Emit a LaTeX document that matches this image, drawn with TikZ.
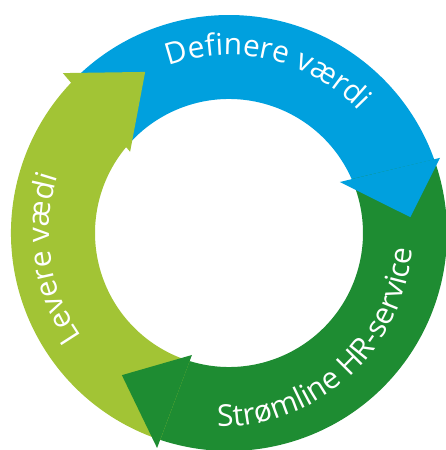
\documentclass[tikz,border=0pt]{standalone}
\usepackage{fontspec}
\setmainfont{Open Sans}
\usetikzlibrary{decorations.text}

\definecolor{cycleblue}{RGB}{0,160,222}
\definecolor{cyclegreen}{RGB}{30,140,50}
\definecolor{cyclelime}{RGB}{162,196,53}

\newcommand\ringfont{\fontsize{30}{30}\selectfont}

\tikzset{
  ringpart/.style={fill=#1, draw=none},
  ringlabel/.style={decorate, decoration={text along path, text align=center,
      text color=white, text={|\ringfont|#1}}}
}

\begin{document}
\begin{tikzpicture}[x=1pt,y=1pt]
  \useasboundingbox (0,0) rectangle (446,450);
  \clip (0,0) rectangle (446,450);

  \begin{scope}[shift={(229,217)}]
    % ring segments (each ends 1 degree inside its own arrow head)
    \fill[ringpart=cycleblue]
      (136.4:218) arc[start angle=136.4, end angle=18.7, radius=218]
      -- (22.7:134) arc[start angle=22.7, end angle=140.2, radius=134] -- cycle;
    \fill[ringpart=cyclegreen]
      (19.7:218) arc[start angle=19.7, end angle=-109.4, radius=218]
      -- (-108.1:134) arc[start angle=-108.1, end angle=23.7, radius=134] -- cycle;
    \fill[ringpart=cyclelime]
      (251.6:218) arc[start angle=251.6, end angle=135.4, radius=218]
      -- (139.2:134) arc[start angle=139.2, end angle=252.9, radius=134] -- cycle;

    % arrow heads
    \fill[ringpart=cycleblue]  (19.6:224)   -- (5:182)     -- (24.7:122)  -- cycle;
    \fill[ringpart=cyclegreen] (251.5:226.7) -- (233:178)  -- (253.1:127.5) -- cycle;
    \fill[ringpart=cyclelime]  (136.1:230.6) -- (117.5:181.6) -- (140.6:128) -- cycle;

    % labels along the ring
    \path[ringlabel={Definere værdi}]
      (126.5:178) arc[start angle=126.5, end angle=26.5, radius=178];
    \path[ringlabel={Levere vædi}]
      (233.5:180) arc[start angle=233.5, end angle=143.5, radius=180];
    \begin{scope}[shift={(-8.5,-1.75)}]
      \path[ringlabel={Strømline HR-service}]
        (262.5:192) arc[start angle=262.5, end angle=362.5, radius=192];
    \end{scope}
  \end{scope}
\end{tikzpicture}
\end{document}
